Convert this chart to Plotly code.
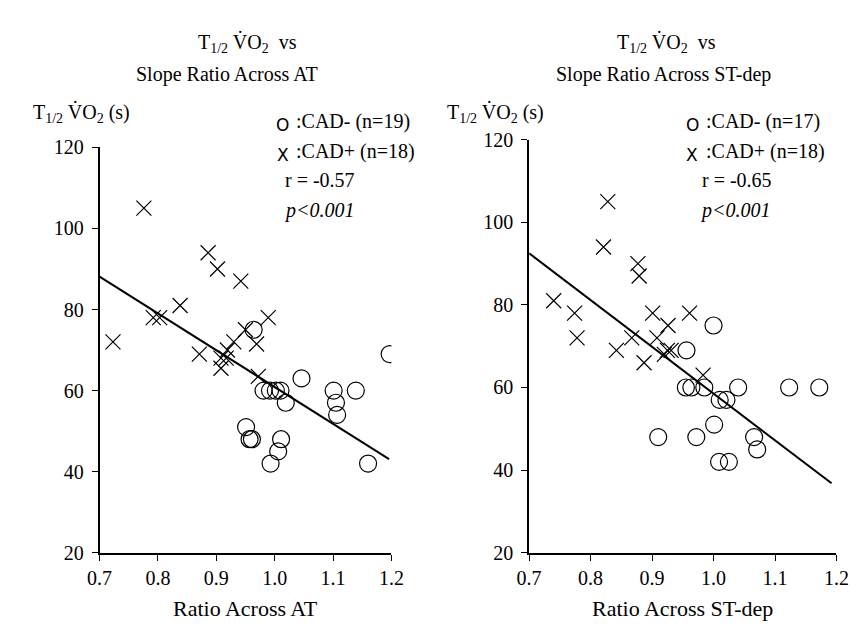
import plotly.graph_objects as go

# ---------------- data ----------------
# Left panel: T1/2 VO2 vs slope ratio across AT
at_cadpos_x = [0.776, 0.723, 0.792, 0.803, 0.838, 0.886, 0.902, 0.942, 0.989,
               0.950, 0.969, 0.871, 0.908, 0.908, 0.919, 0.930, 0.917, 0.972]
at_cadpos_y = [105, 72, 78, 78, 81, 94, 90, 87, 78,
               75, 71.5, 69, 68, 65.5, 70, 72, 68, 63.5]
at_cadneg_x = [0.964, 1.197, 1.046, 0.981, 0.992, 1.002, 1.010, 1.019, 1.101, 1.105,
               1.107, 1.139, 0.951, 0.957, 0.961, 1.011, 1.006, 0.993, 1.160]
at_cadneg_y = [75, 69, 63, 60, 60, 60, 60, 57, 60, 57,
               54, 60, 51, 48, 48, 48, 45, 42, 42]
at_fit_x = [0.70, 1.196]
at_fit_y = [88.1, 43.1]

# Right panel: T1/2 VO2 vs slope ratio across ST-dep
st_cadpos_x = [0.828, 0.821, 0.877, 0.879, 0.740, 0.774, 0.778, 0.842, 0.867,
               0.887, 0.901, 0.908, 0.926, 0.925, 0.931, 0.961, 0.983, 0.920]
st_cadpos_y = [105, 94, 90, 87, 81, 78, 72, 69, 72,
               66, 78, 72, 75, 69, 69, 78, 63, 68]
st_cadneg_x = [1.000, 0.956, 0.955, 0.964, 0.985, 1.040, 1.123, 1.172, 1.010,
               1.021, 0.910, 0.972, 1.001, 1.009, 1.025, 1.066, 1.071]
st_cadneg_y = [75, 69, 60, 60, 60, 60, 60, 60, 57,
               57, 48, 48, 51, 42, 42, 48, 45]
st_fit_x = [0.70, 1.192]
st_fit_y = [92.5, 36.8]

x_tickvals = [0.7, 0.8, 0.9, 1.0, 1.1, 1.2]
x_ticktext = ["0.7", "0.8", "0.9", "1.0", "1.1", "1.2"]
y_tickvals = [20, 40, 60, 80, 100, 120]
y_ticktext = ["20", "40", "60", "80", "100", "120"]

title_line1 = "T<sub>1/2</sub> V̇O<sub>2</sub>  vs"
title_line2 = ["Slope Ratio Across AT", "Slope Ratio Across ST-dep"]
x_titles = ["Ratio Across AT", "Ratio Across ST-dep"]
y_title = "T<sub>1/2</sub> V̇O<sub>2</sub> (s)"
legend_neg = [":CAD- (n=19)", ":CAD- (n=17)"]
legend_pos = [":CAD+ (n=18)", ":CAD+ (n=18)"]
r_texts = ["r = -0.57", "r = -0.65"]
p_text = "<i>p<0.001</i>"

# ---------------- layout helpers ----------------
W, H = 857, 631
SERIF = "Liberation Serif, Times New Roman, serif"


def px(x):
    return x / W


def py(y):
    return 1 - y / H


fig = go.Figure()

x_marker = dict(symbol="x-thin-open", size=15, color="black",
                line=dict(color="black", width=1.2))
o_marker = dict(symbol="circle-open", size=17, color="black",
                line=dict(color="black", width=1.2))

panels = [
    (at_cadpos_x, at_cadpos_y, at_cadneg_x, at_cadneg_y, at_fit_x, at_fit_y, "x", "y"),
    (st_cadpos_x, st_cadpos_y, st_cadneg_x, st_cadneg_y, st_fit_x, st_fit_y, "x2", "y2"),
]
for cpx, cpy, cnx, cny, fx, fy, xa, ya in panels:
    fig.add_trace(go.Scatter(x=fx, y=fy, mode="lines", xaxis=xa, yaxis=ya,
                             line=dict(color="black", width=2), showlegend=False,
                             hoverinfo="skip"))
    fig.add_trace(go.Scatter(x=cnx, y=cny, mode="markers", xaxis=xa, yaxis=ya,
                             marker=o_marker, showlegend=False))
    fig.add_trace(go.Scatter(x=cpx, y=cpy, mode="markers", xaxis=xa, yaxis=ya,
                             marker=x_marker, showlegend=False))


def axis_style():
    return dict(showline=True, linecolor="black", linewidth=1.6,
                ticks="outside", ticklen=6, tickwidth=1.4, tickcolor="black",
                showgrid=False, zeroline=False, mirror=False,
                tickfont=dict(family=SERIF, size=20, color="black"))


xdoms = [(81, 382), (524, 841)]
ytops = [133, 125]
ybot = 553

fig.update_layout(
    width=W, height=H,
    margin=dict(l=0, r=0, t=0, b=0),
    font=dict(family=SERIF, size=20, color="black"),
    paper_bgcolor="white", plot_bgcolor="white",
    xaxis=dict(domain=[px(xdoms[0][0]), px(xdoms[0][1])], range=[0.7, 1.2],
               tickvals=x_tickvals, ticktext=x_ticktext, anchor="y", **axis_style()),
    yaxis=dict(domain=[py(ybot), py(ytops[0])], range=[20, 120],
               tickvals=y_tickvals, ticktext=y_ticktext, anchor="x",
               ticklabelstandoff=4, **axis_style()),
    xaxis2=dict(domain=[px(xdoms[1][0]), px(xdoms[1][1])], range=[0.7, 1.2],
                tickvals=x_tickvals, ticktext=x_ticktext, anchor="y2", **axis_style()),
    yaxis2=dict(domain=[py(ybot), py(ytops[1])], range=[20, 120],
                tickvals=y_tickvals, ticktext=y_ticktext, anchor="x2",
                ticklabelstandoff=4, **axis_style()),
)

ann = []


def add_text(text, x, y, xanchor="left", size=20, family=SERIF):
    ann.append(dict(text=text, x=px(x), y=py(y), xref="paper", yref="paper",
                    xanchor=xanchor, yanchor="middle", showarrow=False,
                    font=dict(family=family, size=size, color="black")))


title1_cx = [234, 666]
title2_cx = [212, 663]
ylab_x = [10, 437]
leg_x = [270, 692]
r_x = [270, 700]
p_x = [269, 698]
for i in range(2):
    add_text(title_line1, title1_cx[i], 25, "center")
    add_text(title_line2[i], title2_cx[i], 58, "center")
    add_text(y_title, ylab_x[i], 97)
    cx = (xdoms[i][0] + xdoms[i][1]) / 2
    add_text(x_titles[i], cx, 611, "center", size=22)
    add_text("O", leg_x[i], 110, "center", size=17, family="DejaVu Sans")
    add_text("X", leg_x[i], 141, "center", size=17, family="DejaVu Sans")
    add_text(legend_neg[i], leg_x[i] + 12, 106)
    add_text(legend_pos[i], leg_x[i] + 12, 137)
    add_text(r_texts[i], r_x[i], 167)
    add_text(p_text, p_x[i], 198)
fig.update_layout(annotations=ann)

fig.write_html("out.html")
